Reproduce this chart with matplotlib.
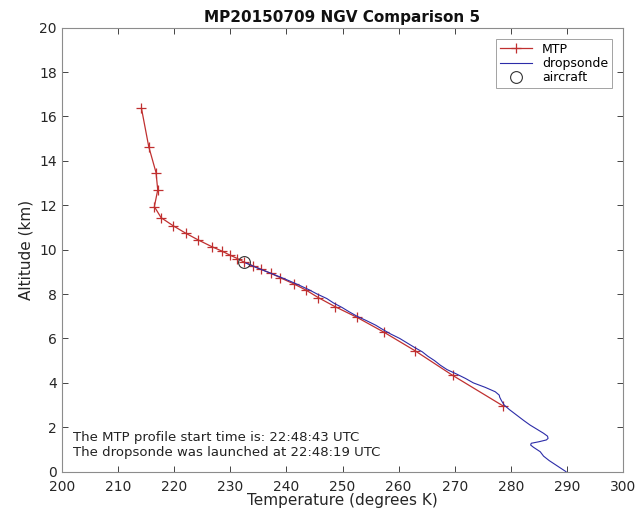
import numpy as np
import matplotlib
matplotlib.use('Agg')
import matplotlib.pyplot as plt

# MTP retrieved profile (temperature K, altitude km)
mtp_temp = [214.2, 215.5, 216.8, 217.1, 216.5, 217.7, 219.9, 222.1, 224.3, 226.7,
            228.5, 230.0, 231.3, 232.4, 234.0, 235.4, 237.2, 238.9, 241.4, 243.5,
            245.7, 248.7, 252.6, 257.4, 262.9, 269.6, 278.6]
mtp_alt = [16.37, 14.64, 13.47, 12.69, 11.94, 11.44, 11.07, 10.74, 10.44, 10.14,
           9.94, 9.75, 9.60, 9.45, 9.28, 9.13, 8.94, 8.74, 8.45, 8.18,
           7.84, 7.43, 6.95, 6.28, 5.45, 4.34, 2.96]

# dropsonde profile
sonde_temp = [232.8, 234.6, 236.6, 238.6, 240.5, 242.3, 244.0, 245.5, 247.2, 248.4,
              249.9, 251.2, 252.6, 254.3, 255.9, 257.2, 258.6, 260.2, 261.5, 262.8,
              264.2, 265.2, 266.4, 267.4, 268.6, 270.3, 271.9, 273.3, 275.4, 277.2,
              277.9, 278.0, 278.3, 278.8, 279.7, 281.0, 282.3, 283.4, 284.7, 285.8,
              286.5, 286.6, 286.3, 285.0, 283.6, 283.5, 284.0, 285.2, 285.8, 286.8,
              288.0, 288.9, 289.8]
sonde_alt = [9.40, 9.20, 9.00, 8.80, 8.60, 8.40, 8.20, 8.00, 7.80, 7.60,
             7.40, 7.20, 7.00, 6.80, 6.60, 6.40, 6.20, 6.00, 5.80, 5.60,
             5.40, 5.20, 5.00, 4.80, 4.60, 4.40, 4.20, 4.00, 3.80, 3.60,
             3.45, 3.35, 3.20, 3.00, 2.80, 2.55, 2.30, 2.10, 1.90, 1.73,
             1.60, 1.50, 1.43, 1.35, 1.28, 1.20, 1.10, 0.90, 0.70, 0.50,
             0.30, 0.15, 0.00]

# aircraft position
ac_temp = [232.4]
ac_alt = [9.45]

fig = plt.figure(figsize=(6.38, 5.09), dpi=100)
ax = fig.add_axes([0.0967, 0.0733, 0.8803, 0.8723])

ax.plot(mtp_temp, mtp_alt, color='#c03030', marker='+', markersize=7,
        markeredgewidth=0.9, linewidth=0.9, label='MTP')
ax.plot(sonde_temp, sonde_alt, color='#2c2ca8', linewidth=0.8, label='dropsonde')
ax.plot(ac_temp, ac_alt, linestyle='none', marker='o', markersize=8.5,
        markerfacecolor='none', markeredgecolor='#333333', markeredgewidth=0.8,
        label='aircraft')

ax.set_xlim(200, 300)
ax.set_ylim(0, 20)
ax.set_xticks(np.arange(200, 301, 10))
ax.set_yticks(np.arange(0, 21, 2))
ax.tick_params(direction='in', top=True, right=True, labelsize=10,
               colors='#262626', length=4, width=0.6)
ax.tick_params(axis='x', pad=6)
for s in ax.spines.values():
    s.set_color('#8c8c8c')
    s.set_linewidth(0.8)

ax.set_xlabel('Temperature (degrees K)', fontsize=11, color='#262626', labelpad=-1)
ax.set_ylabel('Altitude (km)', fontsize=11, color='#262626', labelpad=4)
ax.set_title('MP20150709 NGV Comparison 5', fontsize=11, fontweight='bold',
             color='#111111', pad=4)

ax.text(202, 1.55, 'The MTP profile start time is: 22:48:43 UTC',
        fontsize=9.5, color='#222222', va='center')
ax.text(202, 0.85, 'The dropsonde was launched at 22:48:19 UTC',
        fontsize=9.5, color='#222222', va='center')

leg = ax.legend(loc='upper right', fontsize=9, frameon=True, fancybox=False,
                edgecolor='#8c8c8c', borderpad=0.3, handlelength=2.6,
                labelspacing=0.1, borderaxespad=0.9)
leg.get_frame().set_linewidth(0.7)

fig.savefig('out.png', dpi=100)
